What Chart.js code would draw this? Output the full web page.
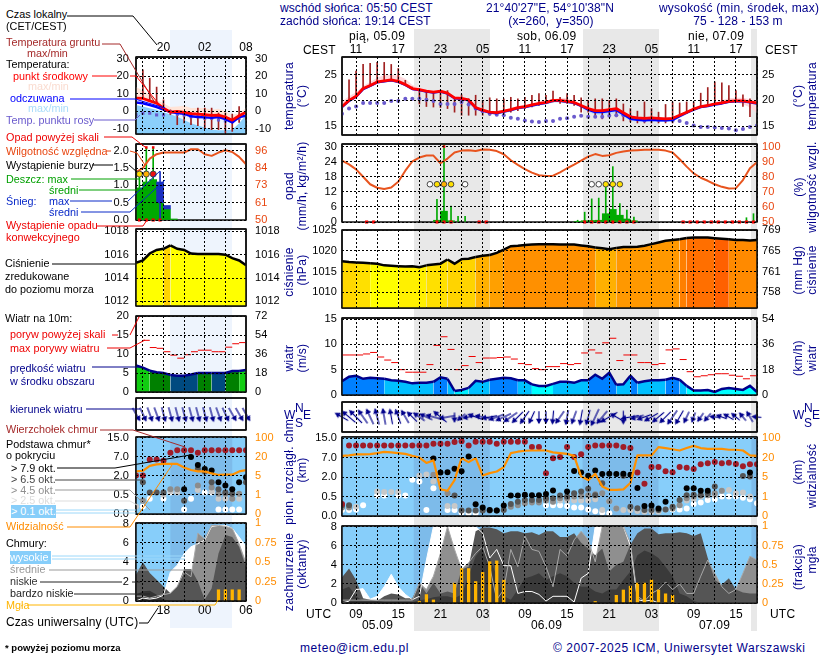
<!DOCTYPE html>
<html lang="pl"><head><meta charset="utf-8"><title>Meteogram</title>
<script src="https://cdn.jsdelivr.net/npm/chart.js@4"></script>
<style>
html,body{margin:0;padding:0;background:#fff;width:820px;height:660px;overflow:hidden}
#stage{position:relative;width:820px;height:660px;overflow:hidden;font-family:"Liberation Sans",Arial,sans-serif;font-size:12px;letter-spacing:.08px}
canvas{position:absolute}
.t{position:absolute;white-space:nowrap;line-height:14px;height:14px}
.r{position:absolute;white-space:nowrap;line-height:14px;transform:translate(-50%,-50%) rotate(-90deg);color:#00008b;font-size:12px;letter-spacing:.3px}
.s{position:absolute}
svg{position:absolute;left:0;top:0;pointer-events:none}
</style></head><body><div id="stage"></div>
<script>
const N=null;
/* ---------- right-hand forecast, one value per hour; hour 0 = 05.09 07 UTC ---------- */
const tempR=[18.8,20,20.8,22.3,22.9,23.6,23.8,24,23.7,23.1,22.3,22.1,21.8,21.6,21.8,21.4,20.5,20.4,20.1,18.6,18.1,17.7,17.6,17.9,18.2,18.6,18.8,19.1,19.4,19.6,20,20,19.8,19.6,19,18.4,18,18,18.2,18.4,17.6,16.8,16.6,16.5,16.6,16.5,16.4,16.5,17.1,17.7,18.3,18.8,19,19.3,19.5,19.8,19.9,19.9,19.7,19.5];
const tempMaxR=[19.8,20.8,21.6,22.8,23.6,24.4,24.9,25,24.8,24.2,23,22.5,22.1,21.9,22,21.6,20.8,20.6,20.3,18.9,18.3,18,17.9,18.2,18.5,18.9,19.1,19.3,19.6,19.7,20.2,20.5,20.4,20,19.3,18.7,18.4,18.4,18.5,18.6,17.9,17.1,16.9,16.7,16.8,16.8,16.7,16.7,17.3,17.9,18.5,19,19.2,19.6,20,20.4,20.5,20.5,20.2,20];
const tempMinR=[18.6,19.8,20.6,22,22.6,23.3,23.5,23.7,23.3,22.8,22,21.8,21.5,21.3,21.5,21,20.2,20.1,19.8,18.3,17.8,17.4,17.3,17.6,17.9,18.3,18.5,18.8,19.1,19.3,19.7,19.7,19.5,19.3,18.7,18.1,17.6,17.6,17.8,17.9,17.2,16.4,16.2,16.1,16.2,16.1,16,16.1,16.8,17.4,18,18.5,18.7,19,19.2,19.5,19.6,19.3,18.6,17.5];
const feelsR=[18.7,19.9,20.7,22.2,22.8,23.5,23.7,23.9,23.6,23,22.2,22,21.7,21.5,21.7,21.3,20.4,20.3,20,18.5,18,17.6,17.5,17.8,18.1,18.5,18.7,19,19.3,19.5,19.9,19.9,19.7,19.5,18.9,18.2,17.7,17.7,17.9,18.1,17.3,16.4,16.2,16.1,16.2,16.1,16.1,16.2,16.9,17.6,18.2,18.7,18.9,19.2,19.4,19.7,19.8,19.8,19.6,19.4];
const feelsLowR=[18.5,19.7,20.5,22,22.6,23.3,23.5,23.7,23.4,22.8,22,21.8,21.5,21.3,21.5,21.1,20.2,20.1,19.8,18.3,17.8,17.4,17.2,17.5,17.8,18.2,18.4,18.7,19,19.2,19.6,19.6,19.4,19.2,18.6,17.8,17.2,17.2,17.3,17.6,16.8,16,15.9,15.8,15.9,15.8,15.8,15.9,16.6,17.3,18,18.5,18.7,19,19.2,19.5,19.6,19.6,19.4,19.2];
const dewR=[17.4,18.4,18.8,19.5,19.5,19.5,19.5,19.9,19.9,20.3,20.3,20.3,20.1,19.9,19.3,19.3,19.3,19.7,19.2,18.4,17.9,17.4,17.2,17.1,16.6,16.4,16.1,15.9,15.8,16,16,16.4,16.5,16.8,17,16.8,16.8,16.8,17,17.1,17.1,16.8,16.4,16.1,16.3,16.2,16.2,16.1,16,15.6,15.1,14.8,14.8,14.7,14.6,14.5,14.2,14.4,14.8,15.1];
const groundMinR=[N,20,20.6,22.2,22.9,23.6,23.8,24,23.7,23,22.3,19.3,18.8,18.7,18.6,18.4,17.7,17.1,17.1,17.1,17.1,17.1,17.1,17.4,17.7,18,18.4,18.7,19,19.4,19.7,19.4,19.4,19,17.7,17.7,17,16.4,17,16.8,16,15.8,15.6,15.6,15.6,15.6,15.6,15.6,17,17.4,18.4,18.8,19,19.4,19.5,19.8,19.9,18.8,16.8,N];
const groundMaxR=[N,24,25.7,27,27.2,27.4,27.4,27,26.2,23.9,22.6,22.3,21.9,21.7,21.8,21.9,20.3,21.1,20.3,21,20,20.5,20.3,20.3,20.6,20.3,20.6,21,21.3,21,21.8,20.6,21.3,21,20.5,20,20.3,20.3,20,20.3,19.3,18.4,17.9,19.7,18.4,17.7,19.2,19.7,19.5,19.7,19.7,21.4,22.5,23.6,23.4,22.9,21.9,21.1,20.3,N];
const humidityR=[90.7,88.2,84.9,80,75,72.7,71.8,72.9,76.7,84,90.2,92.7,94,94,88.9,92,96,97.3,97.6,97,98,97.8,97,94.9,90.9,87.8,85,82.7,81,80.4,80.7,82.9,85.6,88,90.7,93.3,95,93.8,94.2,95.8,96.7,97.3,97.6,97.8,97.8,97.8,97.3,96,91.6,86.7,82.2,79.3,77.3,75,73.3,72.2,72.4,77.8,85.6,89.6];
const rainAvgR=[[13.5,.7],[14.5,4.3],[15.5,.5],[33.5,.2],[34.5,.5],[35.5,.6],[36.5,.7],[37.5,3.3],[38.5,5],[39.5,2.7],[40.5,1.2],[41.5,.5]];
const rainMaxR=[[13.5,9],[14.5,31],[15.5,6.3],[16.5,2.3],[17.5,2.3],[33.5,.7],[34.5,3.9],[35.5,9.2],[36.5,9.5],[37.5,14],[38.5,22],[39.5,7.3],[40.5,4.7],[41.5,2],[57.5,1.7],[58.5,3.3]];
const stormHoursR=[12.5,13.5,14.5,15.5,17.5,35.5,36.5,37.5,38.5,39.5];
const stormColorsR=['#fff','#ffe000','#ffb000','#ffe000','#fff','#fff','#fff','#ffe000','#ffe000','#ffe000'];
const convectiveR=[3.5,4.5,13.5,14.5,15.5,19.5,20.5,34.5,35.5,36.5,37.5,38.5,39.5,40.5,41.5,48.5,49.5,50.5,51.5,52.5,53.5,54.5,55.5,56.5,57.5,58.5];
const pressureR=[1017.5,1017.3,1017.2,1017.1,1017,1016.9,1016.5,1016.4,1016.3,1016.2,1016.3,1016.05,1016.5,1016.7,1016.9,1017.9,1016.9,1018,1018.1,1018.5,1018.8,1019,1019.5,1020.3,1021.1,1021.2,1021.4,1021.5,1021.6,1021.6,1021.6,1021.5,1021.5,1021.5,1021.3,1021.1,1020.8,1020.6,1020.4,1020.7,1020.9,1020.9,1021,1021.2,1021.6,1022,1022.4,1022.6,1022.8,1023.1,1023.2,1023.2,1023.2,1023,1022.9,1022.8,1022.6,1022.6,1022.5,1022.6];
const pressureBandsR=[[0,'#ffd800'],[2,'#ffe000'],[4,'#ffff00'],[8,'#fff000'],[12,'#ffe000'],[15,'#ffd400'],[19,'#ffb000'],[21,'#ffa000'],[23,'#ff9000'],[36,'#ffb000'],[39,'#ff9800'],[48,'#ff7f00'],[49,'#ff6f00'],[53,'#ff6000'],[55,'#ff8a00']];
const windR=[2.7,3.6,3.8,3.2,3.4,3.3,3.2,2.9,2.8,2.6,2.3,2.4,2.4,2.6,3.5,3.2,.8,1,1.4,2.8,2.6,3,3.2,3.4,3.3,2.9,2.9,2.1,1.8,1.8,2.2,2.6,2.6,2.4,2.9,2.9,4,3.2,4.4,2,2.1,3.8,2.4,2.7,2.9,2.9,3,3.4,3,1.8,.9,.9,1,.6,1.2,1.4,1.2,1,1.8,.6];
const windBandsR=[[0,'#0080ff'],[6,'#00bfff'],[13,'#0080ff'],[15,'#00bfff'],[16,'#00f0ff'],[18,'#00bfff'],[21,'#0080ff'],[25,'#00bfff'],[27,'#00ffff'],[30,'#00bfff'],[35,'#0080ff'],[39,'#00bfff'],[41,'#0080ff'],[42,'#00bfff'],[46,'#0080ff'],[48,'#00bfff'],[49,'#00ffff']];
const gustR=[7.9,7.9,7.9,8.1,8.4,7.5,6.9,6.4,5,4.5,4.5,4.5,6,9.8,11.5,9,5,5.8,7.6,6.4,7.3,7.3,7.4,7.5,7.1,6.2,6,5.2,5,5.6,5.6,6.2,6,6.2,8.3,8.9,8.3,10.3,11.2,6.8,7.9,7.9,6.4,6.4,6,6.2,8.9,9.1,7,4.6,3.6,3.8,4,4.2,4.2,3.9,3.7,3.2,3.8];
const dirR=[-60,-50,-45,-35,-25,-15,-10,-10,-20,-30,-45,-55,-65,-75,-50,-100,180,-130,-100,-70,-80,-100,-110,-115,-125,-135,-145,-155,180,180,185,215,190,200,190,195,205,220,240,-60,180,-100,-105,-110,-120,-130,-135,-145,-150,-155,-160,-145,-140,-85,-70,-60,-50,-40,-30,-85];
const cloudTopR=[.31,12.1,12.1,12.1,12.1,12.1,12.1,12.1,12.1,12.1,12.1,12.1,12.1,12.8,12.8,12.8,13.5,13.8,12.1,13.6,13.6,13.6,12.8,13.6,13.6,13.6,13.6,11.4,11.4,3,6.9,7.3,11.4,7.3,8.4,11.4,12.1,12.1,12.1,12.1,11.4,11,3.2,1.5,4.6,4.6,3.5,3.3,4.6,4.4,4.1,5.3,5.6,5.9,5.6,5.7,5.4,4.8,5.3,5.3];
const base79R=[N,N,N,N,N,N,N,N,N,N,N,N,N,6.8,3.2,3.3,4.2,3.5,7.5,.3,.22,.155,.14,.27,.58,.58,.64,.6,.6,.7,.98,N,.9,3.6,3.2,2.4,3.7,2.8,2.9,2.8,2.9,2.6,1.17,.26,.27,.19,.37,N,N,1.15,1.15,.95,.95,N,N,N,N,N,3.2,N];
const base65R=[.28,.28,N,N,N,N,N,N,N,N,N,N,N,N,N,N,.58,.14,.14,.14,.14,.14,.14,.155,.31,.37,.41,.41,.41,.46,.46,.58,.5,.76,.9,1.1,.6,1.54,N,N,2.4,.24,.2,.155,.155,.155,.17,.24,.41,.6,.65,.6,.76,1.28,N,N,N,2.3,2.2,N];
const base45R=[.22,.22,N,N,N,N,N,N,N,N,N,N,N,2.6,N,.76,N,N,N,N,N,N,N,N,.24,.28,.33,.35,.35,.4,.37,.46,.46,.5,.55,.6,.68,.76,.38,.19,N,N,N,N,N,N,N,.19,.28,.46,.5,.6,.6,.76,.95,N,N,N,N,N];
const base25R=[.26,N,.24,N,N,.9,.85,.85,.85,N,N,2.4,2.7,1.66,N,.26,.26,N,N,N,N,N,N,N,N,N,N,N,N,.4,.37,.4,.4,.4,.4,.4,.43,.155,.38,.19,.155,.155,.13,.11,.11,.11,.17,.19,.28,.4,.43,.5,.6,.6,.95,1,.76,.82,.5,N];
const base01R=[.155,.155,.17,.28,N,.58,.58,N,.58,.58,1.8,1.66,.155,1.15,N,.155,.155,.09,.07,.07,N,N,N,N,N,N,N,N,N,.28,.28,.28,.26,.22,.22,.17,.12,.09,.07,N,N,N,N,N,N,N,N,.17,.17,.19,.31,.35,.41,.43,.5,.5,.5,.47,.43,.33];
const visibilityR=[28,30,34,34,35,39,44,42,39,36,28,21,16,18,2.5,2.2,4.4,19.7,16.6,19.7,6.3,8.1,9.4,12.8,39,45,49,50,50,50,42,39,36,28,5.5,4.4,7.6,3.1,2.4,2.4,2.5,3.8,30,30,30,64,60,55,50,60,69,60,57,57,57,53,53,50,30,28];
const cloudHighR=[0,.2,1.4,1.5,.4,.7,1.7,3,1.7,.9,.35,.7,4.5,8,8,8,8,8,8,8,7.3,4.7,5.6,3.9,3.9,1,1.2,1.2,.9,.2,.7,.7,.7,.1,2.6,3.1,8,8,8,8,8,6,.35,.2,.3,0,0,0,0,0,0,0,0,0,0,0,0,0,0,0];
const cloudMidR=[.3,.3,.3,.3,.3,.3,.3,.3,.3,.3,.3,2.1,1.4,2.8,5.2,8,5.6,3.5,4.2,5.2,5.9,3.8,.35,1.4,5.6,3.8,7,5.6,5.4,3.8,1.7,5.6,4.9,6.6,7.5,6.6,4.3,8,8,8,8,6.3,.7,.2,1,1.4,2.2,1.4,2,1,1,2.8,4.5,3.1,1.7,1,1.4,3.1,4.9,4.5];
const cloudLowR=[2.7,3.6,2.4,.5,.35,.2,.7,1,.9,.5,.5,2.1,1,2.1,1,1.2,1,3.5,3.8,7.5,7.9,7.9,7.7,7.3,7.5,7.5,7.3,7.4,7.1,7.5,7.5,6.9,6.9,7.3,6.3,5.7,5,5.7,3.3,4,4.3,6.1,7.3,7.8,7.8,7.2,7.3,7.3,7.4,7.3,7,7.3,4.7,2.4,1.9,2.6,1.4,1.1,1,1];
const cloudVeryLowR=[1.4,1.7,.7,.2,.2,.2,.1,.1,.1,.1,.1,.3,.4,.6,.7,.7,.5,.9,2.8,4.9,5.8,4.7,2.8,.7,.35,1.4,2.6,2.8,3.1,2.4,2.8,3.1,2.8,2.1,1.7,1.7,1.2,1,1.4,1.4,2.4,3.3,5,5.5,5.2,4.7,3.8,2.8,1,.7,.2,0,0,0,0,0,0,0,0,0];
const fogR=[[11,.02],[12,.11],[13,.04],[16,.26],[17,.45],[18,.45],[19,.28],[20,.4],[21,.54],[22,.55],[23,.3],[36,.02],[39,.1],[40,.17],[41,.22],[42,.26],[43,.26],[44,.3],[45,.17],[46,.12],[47,.1]];
/* ---------- left-hand legend panels: hours 14..30 UTC ---------- */
const tempL=[7.6,7.4,6,4.7,1.9,-.4,0,-.5,-1.3,-1.5,-1.9,-2.3,-2.1,-3.2,-5,-2.5,-.5];
const tempMaxL=[13.9,11.9,9.5,6.6,4.7,2.5,2.8,3.2,1.9,1.9,1.9,.9,1.5,0,-1.9,-1,1.9];
const feelsL=[5.1,4.7,3.6,2.5,1,-.4,-.9,-1.3,-2.8,-3.2,-3.4,-3.6,-3.2,-4.4,-6.3,-3.2,-2.5];
const feelsEdgeL=[3.7,2.8,1.8,.9,-.5,-1.6,-3,-4.9,-6.8,-8.1,-9.2,-10.4,-10.8,-10.8,-10.4,-6.8,-2];
const dewL=[-2,-1,-1,-2,-2,-.1,-1.6,-2,-3,-3,-3.9,-3.9,-4.9,-5.4,-5.4,-3.9,N];
const groundMinL=[N,7.6,6,4.7,1.9,-1.9,-7.6,-6.6,-7.6,-8.2,-9.5,-10.4,-10.4,-12.3,-11.4,-6.3,-4.7];
const groundMaxL=[N,23.7,19,13.9,6.6,.9,.6,0,-.6,1.9,1.9,1.9,-.9,-.9,-1.5,2.8,0];
const humidityL=[81.9,84.6,90.9,93.8,94.9,94.9,94.9,94.9,97.1,97.1,93.8,92.7,94.9,96.4,95.3,92,87.1];
const rainAvgL=[[14.5,.93],[15.5,1.1],[16.5,1.17],[17.5,.5],[18.5,.32],[19.5,.03]];
const rainMaxL=[[14.5,1.34],[15.5,2.08],[16.5,2.08]];
const snowAvgL=[[17.5,.5,1.1],[18.5,.32,.42]];
const snowMaxL=[[17.5,1.4]];
const stormHoursL=[14.5,15.5,16.5];
const stormColorsL=['#ffe000','#ffb000','#ee1111'];
const overScaleL=[15.5,16.5];
const convectiveL=[14.5,15.5,16.5,17.5];
const pressureL=[1015.3,1015.5,1016.1,1016.4,1016.5,1016.8,1016.5,1016.4,1016.1,1016.05,1016.05,1016.05,1016.05,1016,1015.7,1015.5,1015.1];
const pressureBandsL=[[14,'#ffff00'],[18,'#ffd400'],[19,'#ffff00']];
const windL=[7,6.4,5.6,5.2,5,4.5,4.3,4.3,4.6,5,5,5,5,5,5.5,5.5,5.8];
const windBandsL=[[14,'#11cc11'],[16,'#008000'],[19,'#004a80'],[23,'#008000'],[25,'#004a80'],[27,'#008000'],[29,'#11cc11']];
const gustL=[N,13.6,11.7,11.5,10.6,9.7,8.9,9.8,10.6,11,11,10.6,10.6,11.8,12.7,13];
const dirL=[150,155,160,160,165,165,165,165,165,165,165,165,160,155,150,150,150];
const cloudTopL=[2.1,2.1,6.3,6.3,6,8.8,9.8,9.8,9.8,8.8,9.8,9.8,9.8,9.8,9.8,9.8,9.8];
const base79L=[N,N,N,N,N,N,N,.95,7,4.9,3.85,3.45,1.5,1.25,.95,1.5,1.9];
const base65L=[N,1.5,.7,.7,.7,N,N,.35,N,3.85,3.2,1.5,.95,.7,.6,N,1.5];
const base45L=[N,.35,N,N,N,.95,.95,N,N,1.25,N,1.1,.6,.6,.4,.6,N];
const base25L=[.2,N,N,N,.5,.8,.7,N,N,.9,N,.8,.4,.4,.4,.4,N];
const base01L=[N,.2,.4,N,.4,.7,N,.12,.4,N,.7,.7,.12,.12,.12,.12,N];
const visibilityL=[8.6,9.1,13,14.2,14.5,14.5,14.5,11.7,9.7,8.6,8.6,7,5.8,6,6,8.6,9.7];
const cloudHighL=[0,.3,.2,.3,.6,3,3.7,4.9,5.6,5.9,6.3,7.7,7.8,7.8,7.5,6.6,5.6];
const cloudMidL=[.5,.5,.3,.5,.65,.8,1.5,3,2.5,7,6.4,7.8,7.8,7.7,7.5,5.9,3.9];
const cloudLowL=[2.7,4,2.9,2.2,1.5,.8,1.5,3.3,3.3,2,.15,1.3,4.9,6.8,6.6,5.6,3.5];
const cloudVeryLowL=[.65,1,1.05,.65,.15,0,0,0,0,0,0,0,0,0,.1,.1,0];
const fogL=[[26,.145],[27,.145],[28,.145],[29,.145]];
/* ---------- tick labels ---------- */
const localR=['11','17','23','05','11','17','23','05','11','17'];
const utcR=['09','15','21','03','09','15','21','03','09','15'];
const localL=['20','02','08'];
const utcL=['18','00','06'];
const baseKm=[0,.5,2,7,15];
const baseKmText=['0.0','0.5','2.0','7.0','15.0'];
const visKm=[0,1,5,20,100];
const nightsR=[[10.2,21],[34.2,45],[58.2,59]];
const nightsL=[[19,28]];

const stage=document.getElementById('stage');
const ML=48,MR=48,MT=22,MB=22;
const FONT={family:'"Liberation Sans",Arial,sans-serif'};
const range=(a,b,s)=>{const o=[];for(let v=a;v<=b+1e-9;v+=s)o.push(v);return o;};
const xy=(arr,start)=>arr.map((v,i)=>({x:start+i,y:v}));
const pairs=a=>a.map(p=>({x:p[0],y:p[1]}));
const bandAt=(bands,h)=>{let c=bands[0][1];for(const b of bands)if(h>=b[0])c=b[1];return c;};
const level=(v,brk)=>{if(v==null)return null;for(let i=1;i<brk.length;i++)if(v<=brk[i])return i-1+(v-brk[i-1])/(brk[i]-brk[i-1]);return brk.length-1;};

const panelPlugin={id:'panelBox',
 beforeDatasetsDraw(c,a,o){if(!o.sky)return;const {left,right,top,bottom}=c.chartArea,x=c.scales.x,g=c.ctx;g.save();g.fillStyle=o.sky;g.fillRect(left,top,right-left,bottom-top);g.fillStyle=o.skyNight;for(const n of o.nights){const p=x.getPixelForValue(n[0]),q=x.getPixelForValue(n[1]);g.fillRect(p,top,q-p,bottom-top);}g.restore();},
 beforeDraw(c,a,o){const {left,right,top,bottom}=c.chartArea,g=c.ctx;g.save();g.strokeStyle='#111';g.lineWidth=o.lw||1.5;g.strokeRect(left,top,right-left,bottom-top);g.restore();},
 afterDraw(c,a,o){const {left,right,top,bottom}=c.chartArea,g=c.ctx;g.save();g.strokeStyle='#111';g.lineWidth=o.lw||1.5;
  g.beginPath();g.moveTo(left,top);g.lineTo(right,top);g.moveTo(left,top);g.lineTo(left,bottom);g.moveTo(right,top);g.lineTo(right,bottom);g.stroke();
  if(!o.keepBase){g.beginPath();g.moveTo(left,bottom);g.lineTo(right,bottom);g.stroke();}g.restore();}};
Chart.register(panelPlugin);

function panel(p){
 const cv=document.createElement('canvas');const w=p.r-p.l+ML+MR,h=p.b-p.t+MT+MB;
 cv.width=w;cv.height=h;cv.style.left=(p.l-ML)+'px';cv.style.top=(p.t-MT)+'px';cv.style.width=w+'px';cv.style.height=h+'px';stage.appendChild(cv);
 const grid={color:'#000',lineWidth:1,drawTicks:false,z:1,offset:false};
 const off={display:false,drawTicks:false,offset:false};
 const border={display:false,dash:[2,2]};
 const ds=p.datasets.map((d,i,arr)=>Object.assign({pointRadius:0,borderWidth:0,tension:0,order:arr.length-i},d));
 const xAxis=(pos,labels,pad,key)=>({type:'linear',position:pos,min:p.x0,max:p.x1,offset:false,
   grid:key==='x'?grid:off,border:key==='x'?border:{display:false},
   afterBuildTicks:s=>{s.ticks=p.xt.map(v=>({value:v}));},
   afterFit:s=>{s.height=pos==='top'?MT:MB;},
   ticks:{display:!!labels,autoSkip:false,maxRotation:0,minRotation:0,color:'#000',padding:pad||0,font:{...FONT,size:12},callback:v=>labels?labels(v):''}});
 const yAxis=(id,pos,t)=>({type:'linear',position:pos,min:t.min,max:t.max,
   grid:id==='y'&&t.grid!==false?grid:off,border:id==='y'?border:{display:false},
   afterBuildTicks:s=>{s.ticks=(t.ticks||[]).map(v=>({value:v}));},
   afterFit:s=>{s.width=id==='y'?ML:MR;},
   ticks:{autoSkip:false,color:t.color||'#000',padding:id==='y'?(p.pad||5):(p.pad2||5),font:{...FONT,size:11},callback:t.label||(v=>String(v))}});
 return new Chart(cv,{data:{datasets:ds},options:{responsive:false,animation:false,devicePixelRatio:1,events:[],layout:{padding:0},
  plugins:{legend:{display:false},tooltip:{enabled:false},panelBox:{sky:p.sky,skyNight:p.skyNight,nights:p.nights,lw:p.lw,keepBase:p.keepBase}},
  scales:{x:xAxis('bottom',p.xb,p.xbPad,'x'),x2:xAxis('top',p.xtop,p.xtPad,'x2'),y:yAxis('y','left',p.y),y2:yAxis('y2','right',p.y2)}}});
}
/* common dataset builders */
const lineDs=(data,color,w,extra)=>Object.assign({type:'line',data,borderColor:color,borderWidth:w,borderJoinStyle:'round'},extra||{});
const band=(upper,lower,start,color)=>[
 {type:'line',data:xy(upper,start),fill:'+1',backgroundColor:color,borderWidth:0},
 {type:'line',data:xy(lower,start),borderWidth:0}];
const barDs=(data,color,th,extra)=>Object.assign({type:'bar',data,backgroundColor:color,barThickness:th,grouped:false,borderWidth:0},extra||{});
const dots=(data,color,r,extra)=>Object.assign({type:'line',showLine:false,data,pointRadius:r,pointBackgroundColor:color,pointBorderColor:color,pointBorderWidth:0},extra||{});
const rangeData=(lo,hi,start)=>lo.map((v,i)=>({x:start+i,y:v==null?null:[v,hi[i]]})).filter(d=>d.y);
const stepsData=(vals,start)=>{const o=[];vals.forEach((v,i)=>{o.push({x:start+i,y:v},{x:start+i+1,y:v},{x:start+i+1,y:null});});return o;};
const arrowSprite=(len,color)=>{const s=document.createElement('canvas'),m=Math.ceil(len)+8;s.width=s.height=m;const g=s.getContext('2d'),c=m/2;g.strokeStyle=color;g.fillStyle=color;g.lineWidth=1.2;g.beginPath();g.moveTo(c,c+len/2);g.lineTo(c,c-len/2);g.stroke();g.beginPath();g.moveTo(c,c-len/2-1.5);g.lineTo(c-3,c-len/2+4);g.lineTo(c+3,c-len/2+4);g.closePath();g.fill();return s;};
const arrowsDs=(dir,speed,start,scale)=>{const sp=speed.map(v=>arrowSprite(Math.max(8,Math.min(19,scale(v))),'#00008b'));
 return {type:'line',showLine:false,clip:false,data:dir.map((_,i)=>({x:start+i,y:0})),pointRadius:6,pointStyle:c=>sp[c.dataIndex],pointRotation:c=>dir[c.dataIndex]};};
const fillLine=(vals,start,bands,line,w,axisBase)=>({type:'line',data:xy(vals,start),fill:axisBase||'origin',backgroundColor:bands[0][1],borderColor:line,borderWidth:w,
  segment:{backgroundColor:c=>bandAt(bands,start+c.p0DataIndex)}});
const cloudFill=(vals,start,color)=>({type:'line',data:xy(vals,start),fill:'origin',backgroundColor:color,borderWidth:0});

/* ----- boxes ----- */
const R={l:342,r:757},L={l:135.5,r:245.7};
const rx={x0:0,x1:59,xt:range(2,59,3),nights:nightsR,pad:5,pad2:5};
const lx={x0:14,x1:30,xt:[15,18,21,24,27],nights:nightsL,pad:7,pad2:9};
const localLabelR=v=>{const i=(v-2)/6;return Number.isInteger(i)&&localR[i]||'';};
const utcLabelR=v=>{const i=(v-2)/6;return Number.isInteger(i)&&utcR[i]||'';};
const lTickAt=[18,24,30];
const localLabelL=v=>{const i=lTickAt.indexOf(v);return i>=0?localL[i]:'';};
const utcLabelL=v=>{const i=lTickAt.indexOf(v);return i>=0?utcL[i]:'';};

/* left */
panel({...L,...lx,t:57,b:134,xtop:localLabelL,xtPad:2,xt:[15,18,21,24,27,30],
 y:{min:-12.9,max:31.1,ticks:[-10,0,10,20,30]},y2:{min:-12.9,max:31.1,ticks:[-10,0,10,20,30]},
 datasets:[
  ...band(tempMaxL,tempL,14,'#ffe4d8'),
  {type:'line',data:xy(feelsEdgeL,14),fill:'start',backgroundColor:'rgba(110,195,250,.8)',borderWidth:0},
  barDs(rangeData(groundMinL,groundMaxL,14),'#a02020',1),
  dots(xy(dewL,14),'#6a5acd',2.2,{pointStyle:'rect'}),
  lineDs(xy(feelsL,14),'#0000ff',2.5),lineDs(xy(tempL,14),'#ff0000',2.8)]});
panel({...L,...lx,t:144,b:220,
 y:{min:0,max:2.2,ticks:[0,.5,1,1.5,2],label:v=>v.toFixed(1)},
 y2:{min:50,max:100.6,ticks:[50,61.5,73,84.5,96],color:'#e8450f',label:v=>String(Math.floor(v))},
 datasets:[
  barDs(pairs(rainAvgL),'#00aa00',7),
  barDs(snowAvgL.map(s=>({x:s[0],y:[s[1],s[2]]})),'#1c2fc0',7),
  barDs(pairs(rainMaxL),'#00aa00',1),barDs(pairs(snowMaxL),'#1c2fc0',1),
  lineDs(xy(humidityL,14),'#e8541e',2,{yAxisID:'y2'}),
  dots(stormHoursL.map(h=>({x:h,y:1.33})),stormColorsL,3,{pointBorderWidth:1,pointBorderColor:'#444'}),
  dots(overScaleL.map(h=>({x:h,y:2.1})),'#ee0000',1.8,{pointStyle:'rect'}),
  dots(convectiveL.map(h=>({x:h,y:0})),'#ee0000',2.2,{pointStyle:'rect',clip:false})],keepBase:true});
panel({...L,...lx,t:229,b:306,
 y:{min:1011.6,max:1018.2,ticks:[1012,1014,1016,1018]},y2:{min:1011.6,max:1018.2,ticks:[1012,1014,1016,1018]},
 datasets:[fillLine(pressureL,14,pressureBandsL,'#000',2.5,'start')]});
panel({...L,...lx,t:316,b:392,
 y:{min:0,max:20,ticks:[0,5,10,15,20]},y2:{min:0,max:72,ticks:[0,18,36,54,72]},
 datasets:[fillLine(windL,14,windBandsL,'#00008b',2.5,'start'),
  lineDs(stepsData(gustL,14),'#ee0000',1,{spanGaps:false}),
  dots([{x:14.4,y:20}],'#ee0000',1.6,{pointStyle:'rect'})]});
panel({...L,...lx,t:398,b:430,
 y:{min:-1,max:1,grid:false},y2:{min:-1,max:1},
 datasets:[arrowsDs(dirL,windL,14,v=>14)]});
panel({...L,...lx,t:437,b:514,sky:'#87cefa',skyNight:'#7dbbea',
 y:{min:0,max:4.05,ticks:[0,1,2,3,4],label:v=>baseKmText[v]},
 y2:{min:0,max:4.05,ticks:[0,1,2,3,4],color:'#ff8c00',label:v=>String(visKm[v])},
 datasets:[
  dots(base01L.map((v,i)=>({x:14+i,y:level(v,baseKm)})),'#fff',3),
  dots(base25L.map((v,i)=>({x:14+i,y:level(v,baseKm)})),'#c8c8c8',3),
  dots(base45L.map((v,i)=>({x:14+i,y:level(v,baseKm)})),'#8c8c8c',3),
  dots(base65L.map((v,i)=>({x:14+i,y:level(v,baseKm)})),'#555',3),
  dots(base79L.map((v,i)=>({x:14+i,y:level(v,baseKm)})),'#000',3),
  dots(cloudTopL.map((v,i)=>({x:14+i,y:level(v,baseKm)})),'#a01c28',3),
  lineDs(visibilityL.map((v,i)=>({x:14+i,y:level(v,visKm)})),'#ff9000',2.2)]});
panel({...L,...lx,t:523,b:601,sky:'#87cefa',skyNight:'#7dbbea',xb:utcLabelL,xbPad:2,xt:[15,18,21,24,27,30],
 y:{min:0,max:8.05,ticks:[0,2,4,6,8]},
 y2:{min:0,max:1.006,ticks:[0,.25,.5,.75,1],color:'#ff8c00'},
 datasets:[
  cloudFill(cloudHighL,14,'#fff'),cloudFill(cloudMidL,14,'#8f8f8f'),cloudFill(cloudLowL,14,'#555'),cloudFill(cloudVeryLowL,14,'#333'),
  lineDs(xy(cloudHighL,14),'#fff',1),lineDs(xy(cloudMidL,14),'#a8a8a8',1),
  barDs(pairs(fogL),'#ffb400',2.6,{yAxisID:'y2'})]});

/* right */
const hpaTicks=[1010,1015,1020,1025];
const mmTicks=[757.56,761.3,765.06,768.8];
const mmText=['758','761','765','769'];
panel({...R,...rx,t:57,b:135,xtop:localLabelR,xtPad:0,
 y:{min:13.25,max:28.45,ticks:[15,20,25]},y2:{min:13.25,max:28.45,ticks:[15,20,25]},
 datasets:[
  ...band(tempMaxR,tempMinR,0,'#ffd8dc'),
  ...band(feelsR,feelsLowR,0,'#b8dcff'),
  barDs(rangeData(groundMinR,groundMaxR,0),'#a02020',1),
  dots(xy(dewR,0),'#6a5acd',2),
  lineDs(xy(feelsR,0),'#0000ff',2.4),lineDs(xy(tempR,0),'#ff0000',2.8)]});
panel({...R,...rx,t:144,b:222,keepBase:true,
 y:{min:0,max:31,ticks:[0,6,12,18,24,30]},
 y2:{min:50,max:101.67,ticks:[50,60,70,80,90,100],color:'#e8450f'},
 datasets:[
  barDs(pairs(rainAvgR),'#00aa00',7),
  barDs(pairs(rainMaxR),'#00aa00',1),
  lineDs(xy(humidityR,0),'#e8541e',2,{yAxisID:'y2'}),
  dots(stormHoursR.map(h=>({x:h,y:15})),stormColorsR,2.8,{pointBorderWidth:1,pointBorderColor:'#444'}),
  dots([{x:14.5,y:30}],'#ee0000',1.8,{pointStyle:'rect'}),
  dots(convectiveR.map(h=>({x:h,y:0})),'#ee0000',2.2,{pointStyle:'rect',clip:false})]});
panel({...R,...rx,t:230,b:308,
 y:{min:1006.25,max:1025,ticks:hpaTicks},
 y2:{min:754.7,max:768.8,ticks:mmTicks,label:v=>mmText[mmTicks.indexOf(v)]},
 datasets:[fillLine(pressureR,0,pressureBandsR,'#000',2.5,'start')]});
panel({...R,...rx,t:318,b:395,
 y:{min:0,max:15.2,ticks:[0,5,10,15]},y2:{min:0,max:54.72,ticks:[0,18,36,54]},
 datasets:[fillLine(windR,0,windBandsR,'#00008b',2.5,'start'),
  lineDs(stepsData(gustR,0),'#ee0000',1,{spanGaps:false})]});
panel({...R,...rx,t:402,b:432,
 y:{min:-1,max:1,grid:false},y2:{min:-1,max:1},
 datasets:[arrowsDs(dirR,windR,0,v=>7+v*2.6)]});
panel({...R,...rx,t:437,b:516,sky:'#87cefa',skyNight:'#7dbbea',
 y:{min:0,max:4.07,ticks:[0,1,2,3,4],label:v=>baseKmText[v]},
 y2:{min:0,max:4.07,ticks:[0,1,2,3,4],color:'#ff8c00',label:v=>String(visKm[v])},
 datasets:[
  dots(base01R.map((v,i)=>({x:i,y:level(v,baseKm)})),'#fff',3),
  dots(base25R.map((v,i)=>({x:i,y:level(v,baseKm)})),'#c8c8c8',3),
  dots(base45R.map((v,i)=>({x:i,y:level(v,baseKm)})),'#8c8c8c',3),
  dots(base65R.map((v,i)=>({x:i,y:level(v,baseKm)})),'#555',3),
  dots(base79R.map((v,i)=>({x:i,y:level(v,baseKm)})),'#000',3),
  dots(cloudTopR.map((v,i)=>({x:i,y:level(v,baseKm)})),'#a01c28',3),
  lineDs(visibilityR.map((v,i)=>({x:i,y:level(v,visKm)})),'#ff9000',2.2)]});
panel({...R,...rx,t:526,b:603,sky:'#87cefa',skyNight:'#7dbbea',xb:utcLabelR,xbPad:4,
 y:{min:0,max:8.05,ticks:[0,2,4,6,8]},
 y2:{min:0,max:1.006,ticks:[0,.25,.5,.75,1],color:'#ff8c00'},
 datasets:[
  cloudFill(cloudHighR,0,'#fff'),cloudFill(cloudMidR,0,'#8f8f8f'),cloudFill(cloudLowR,0,'#555'),cloudFill(cloudVeryLowR,0,'#3a3a3a'),
  lineDs(xy(cloudHighR,0),'#fff',1),lineDs(xy(cloudMidR,0),'#a8a8a8',1),
  barDs(pairs(fogR),'#ffb400',2.6,{yAxisID:'y2'})]});

/* ----- text ----- */
const NAVY='#00008b',BROWN='#a52a2a',RED='#ee0000',ORG='#e8450f',GRN='#00a000',BLU='#0a2ac8';
const legend=[
 ['Czas lokalny',6,14,'#000'],['(CET/CEST)',6,26,'#000'],
 ['Temperatura gruntu',6,42,BROWN],['max/min',27,53,BROWN],['Temperatura:',6,64,'#000'],
 ['punkt środkowy',13,76,'#ff0000'],['max/min',28,86,'#fadcd0'],['odczuwana',10,98,'#0000ff'],['max/min',28,108,'#a8dcfa'],
 ['Temp. punktu rosy',6,120,'#6a5acd'],['Opad powyżej skali',6,137,RED],['Wilgotność względna',6,151,ORG],['Wystąpienie burzy',6,165,'#000'],
 ['Deszcz: max',6,179,GRN],['średni',49,190,GRN],['Śnieg:',6,201,BLU],['max',49,201,BLU],['średni',49,212,BLU],
 ['Wystąpienie opadu',6,225,RED],['konwekcyjnego',6,237,RED],
 ['Ciśnienie',5,263,'#000'],['zredukowane',5,276,'#000'],['do poziomu morza',5,289,'#000'],['Wiatr na 10m:',5,318,'#000'],
 ['poryw powyżej skali',10,334,RED],['max porywy wiatru',10,348,RED],['prędkość wiatru',10,368,NAVY],['w środku obszaru',10,381,NAVY],
 ['kierunek wiatru',10,409,NAVY],['Wierzchołek chmur',6,429,BROWN],['Podstawa chmur*',6,444,'#000'],['o pokryciu',6,455,'#000'],
 ['> 7.9 okt.',11,468,'#000'],['> 6.5 okt.',11,479,'#444'],['> 4.5 okt.',11,490,'#909090'],['> 2.5 okt.',11,500,'#ddd'],
 ['Widzialność',6,526,'#ff8c00'],['Chmury:',6,543,'#000'],['średnie',10,569,'#999'],['niskie',10,581,'#333'],['bardzo niskie',10,593,'#222'],['Mgła',6,605,'#ffb400']];
for(const [s,x,y,c] of legend){const d=document.createElement('div');d.className='t';d.textContent=s;d.style.cssText+=`;left:${x}px;top:${y-7}px;color:${c};font-size:10.8px;letter-spacing:0`;stage.appendChild(d);}
const labels=[
 ['Czas uniwersalny (UTC)',6,622,'#000',.1],
 ['wschód słońca: 05:50 CEST',280,8,NAVY,.08],['zachód słońca: 19:14 CEST',280,21,NAVY,.08],
 ['pią, 05.09',349,36,'#000',.35],['sob, 06.09',517,36,'#000',.35],['nie, 07.09',688,36,'#000',.35],
 ['CEST',303,50,'#000',.2],['CEST',765,50,'#000',.2],['UTC',306,614,'#000',.2],['UTC',770,614,'#000',.2],
 ['05.09',362,625,'#000',.2],['06.09',531,625,'#000',.2],['07.09',699,625,'#000',.2],
 ['meteo@icm.edu.pl',300,648,NAVY,.55],['© 2007-2025 ICM, Uniwersytet Warszawski',553,648,NAVY,.55],
 ['wysokość (min, środek, max)',659,8,NAVY,.2],
 ['W',284,415,NAVY,0],['N',295,408,NAVY,0],['E',303,415,NAVY,0],['S',295,423,NAVY,0],
 ['W',793,415,NAVY,0],['N',804,408,NAVY,0],['E',812,415,NAVY,0],['S',804,423,NAVY,0]];
for(const [s,x,y,c,ls] of labels){const d=document.createElement('div');d.className='t';d.textContent=s;d.style.cssText+=`;left:${x}px;top:${y-7}px;color:${c};letter-spacing:${ls}px`;stage.appendChild(d);}
const centered=[['21°40\'27"E, 54°10\'38"N',550,8],['(x=260,  y=350)',551,21],['75 - 128 - 153 m',738,21]];
for(const [s,x,y] of centered){const d=document.createElement('div');d.className='t';d.style.whiteSpace='pre';d.textContent=s;d.style.left=x+'px';d.style.top=(y-7)+'px';d.style.color=NAVY;d.style.transform='translateX(-50%)';stage.appendChild(d);}
const boxed=[['> 0.1 okt.',11,505,45,13],['wysokie',10,551,41,13]];
for(const [s,x,y,w,h] of boxed){const d=document.createElement('div');d.className='t';d.textContent=s;d.style.cssText+=`;left:${x}px;top:${y}px;width:${w}px;height:${h}px;line-height:13px;background:#87cefa;color:#fff;font-size:10.8px;letter-spacing:0`;stage.appendChild(d);}
const note=document.createElement('div');note.className='t';note.textContent='* powyżej poziomu morza';note.style.cssText+=';left:5px;top:641px;font-size:9.5px;font-weight:bold;letter-spacing:0;color:#000';stage.appendChild(note);
const rot=[['temperatura',289,96],['(°C)',302,96],['(°C)',798,96],['temperatura',812,96],
 ['opad',289,186],['(mm/h, kg/m²/h)',302,186],['(%)',799,187],['wilgotność wzgl.',812,187],
 ['ciśnienie',289,272],['(hPa)',302,270],['(mm Hg)',798,270],['ciśnienie',812,270],
 ['wiatr',289,358],['(m/s)',302,358],['(km/h)',798,358],['wiatr',812,358],
 ['pion. rozciągł. chm.',289,470],['(km)',302,470],['(km)',798,472],['widzialność',812,476],
 ['zachmurzenie',289,572],['(oktanty)',302,564],['(frakcja)',798,567],['mgła',812,560]];
for(const [s,x,y] of rot){const d=document.createElement('div');d.className='r';d.textContent=s;d.style.left=x+'px';d.style.top=y+'px';stage.appendChild(d);}
/* night shading behind everything */
const shades=[[414,29,76,602,'#e8e8e8'],[583,29,76,602,'#e8e8e8'],[751,29,6,602,'#e8e8e8'],[170,30,62,598,'#eef4fd']];
shades.forEach(([x,y,w,h,c])=>{const d=document.createElement('div');d.className='s';d.style.cssText=`left:${x}px;top:${y}px;width:${w}px;height:${h}px;background:${c};z-index:-1`;stage.appendChild(d);});
stage.style.zIndex=0;
/* leader lines of the legend */
const leaders=[
 ['#000',[[67,16],[133,16],[157,45]]],[BROWN,[[102,44],[120,44],[155,103]]],['#f00',[[92,76],[117,76]]],['#f00',[[130,76],[136,76],[158,103]]],
 ['#00f',[[70,99],[135,99],[165,108]]],['#6a5acd',[[94,120],[135,120],[140,115]]],[RED,[[104,137],[132,137],[145,147]]],
 [ORG,[[106,151],[111,151]]],[ORG,[[130,151],[137,153],[145,165]]],['#000',[[92,165],[113,165]]],['#000',[[129,165],[137,172]]],
 [GRN,[[71,179],[139,179]]],[GRN,[[79,190],[148,190]]],[BLU,[[70,201],[112,201]]],[BLU,[[128,201],[160,171]]],[BLU,[[81,212],[130,212],[165,180]]],
 [RED,[[97,226],[143,226],[147,220]]],['#000',[[52,264],[135,264]]],[RED,[[112,335],[118,335]]],[RED,[[130,335],[139,317]]],[RED,[[107,348],[130,348],[145,340]]],
 [NAVY,[[92,367],[140,367]]],[NAVY,[[86,409],[140,409]]],[BROWN,[[100,430],[133,430],[185,447]]],['#000',[[57,468],[115,468],[190,455]]],
 ['#444',[[55,480],[143,480]]],['#999',[[55,490],[130,490],[150,510]]],['#ddd',[[55,501],[130,501],[137,505]]],['#9cd8fa',[[55,510],[136,510]]],['#9cd8fa',[[55,513],[136,513]]],
 ['#ff8c00',[[67,527],[130,527],[172,465]]],['#9cd8fa',[[52,556],[185,556]]],['#9cd8fa',[[52,559],[185,559]]],['#999',[[49,570],[193,570]]],
 ['#222',[[40,582],[122,582]]],['#222',[[132,582],[140,582]]],['#222',[[74,594],[150,594]]],['#ffb400',[[27,605],[215,605],[218,600]]],['#000',[[139,623],[148,623],[158,608]]]];
const svgNS='http://www.w3.org/2000/svg';const svg=document.createElementNS(svgNS,'svg');svg.setAttribute('width',820);svg.setAttribute('height',660);
for(const [c,pts] of leaders){const l=document.createElementNS(svgNS,'polyline');l.setAttribute('points',pts.map(p=>p.join(',')).join(' '));l.setAttribute('fill','none');l.setAttribute('stroke',c);l.setAttribute('stroke-width','1');svg.appendChild(l);}
stage.appendChild(svg);
</script></body></html>
